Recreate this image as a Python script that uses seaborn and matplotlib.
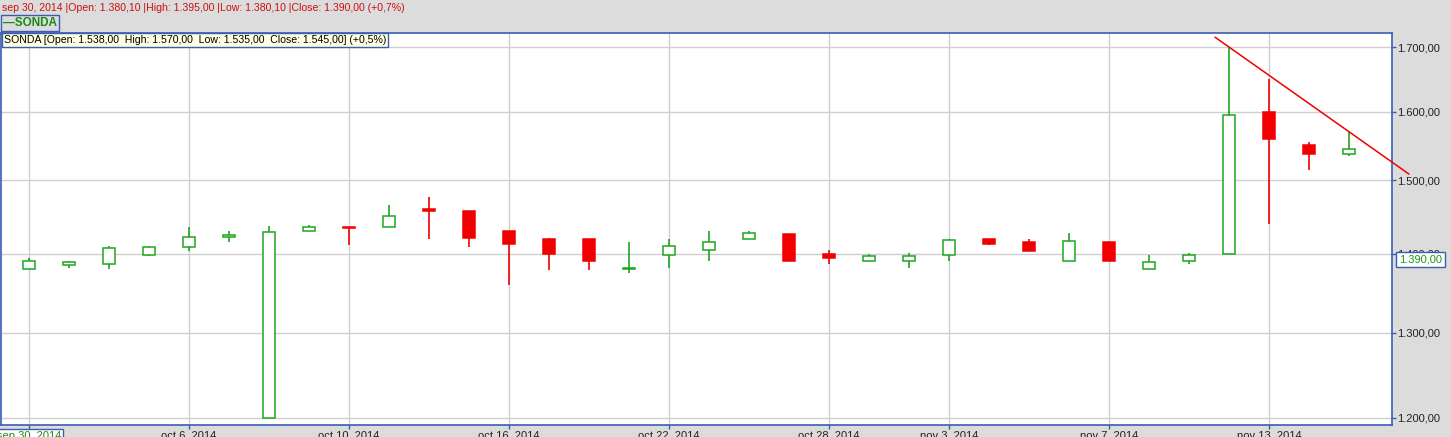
import numpy as np
import pandas as pd
import seaborn as sns
import matplotlib.pyplot as plt
from matplotlib.ticker import FixedLocator, FuncFormatter, NullLocator

# trading days shown
dates = ["2014-09-30", "2014-10-01", "2014-10-02", "2014-10-03", "2014-10-06",
         "2014-10-07", "2014-10-08", "2014-10-09", "2014-10-10", "2014-10-13",
         "2014-10-14", "2014-10-15", "2014-10-16", "2014-10-17", "2014-10-20",
         "2014-10-21", "2014-10-22", "2014-10-23", "2014-10-24", "2014-10-27",
         "2014-10-28", "2014-10-29", "2014-10-30", "2014-11-03", "2014-11-04",
         "2014-11-05", "2014-11-06", "2014-11-07", "2014-11-10", "2014-11-11",
         "2014-11-12", "2014-11-13", "2014-11-14", "2014-11-17"]
opens = [1380.1, 1385, 1386, 1399, 1409, 1422, 1200, 1430, 1436, 1435,
         1460, 1457.5, 1430, 1420, 1420, 1380, 1399, 1405, 1419, 1426,
         1400, 1390, 1390, 1399, 1419, 1416, 1390, 1416, 1380, 1390,
         1400, 1600, 1550, 1538]
highs = [1395, 1391, 1410, 1410, 1436, 1430, 1437, 1438, 1436, 1466,
         1477, 1457.5, 1430, 1421, 1420, 1416, 1420, 1430, 1430, 1426,
         1405, 1400, 1401, 1420, 1419, 1420, 1427, 1416, 1398, 1401,
         1700, 1650, 1555, 1570]
lows = [1380.1, 1382, 1380, 1397, 1404, 1415, 1200, 1430, 1411, 1435,
        1419, 1409, 1359, 1379, 1379, 1375, 1382, 1390, 1419, 1390,
        1386, 1390, 1381, 1390, 1411, 1403, 1390, 1390, 1380, 1386,
        1400, 1440, 1514, 1535]
closes = [1390, 1389, 1408, 1409, 1422, 1425, 1429, 1435, 1434, 1451,
          1458, 1421, 1413, 1400, 1390, 1381, 1410, 1415, 1427, 1391,
          1394, 1397, 1397, 1418, 1413, 1404, 1417, 1391, 1389, 1399,
          1595, 1559, 1537, 1545]
label_dates = ["2014-09-30", "2014-10-06", "2014-10-10", "2014-10-16", "2014-10-22",
               "2014-10-28", "2014-11-03", "2014-11-07", "2014-11-13"]
price_ticks = [1200, 1300, 1400, 1500, 1600, 1700]
trend_days = [30, 33]   # trend line through the highs of these days
first_change = "+0,7%"  # change shown for sep 30 in the cursor line

df = pd.DataFrame({"date": pd.to_datetime(dates), "open": opens, "high": highs,
                   "low": lows, "close": closes})
df["i"] = np.arange(len(df))
df["up"] = df["close"] >= df["open"]

GREEN = "#1ea51e"
RED = "#f00000"
BLUE = "#3a5db4"
BG = "#dcdcdc"
FS = 8
HFS = 7.6


def eu(v):
    s = f"{v:,.2f}"
    return s.replace(",", "X").replace(".", ",").replace("X", ".")


def datelabel(d):
    d = pd.Timestamp(d)
    return f"{d.strftime('%b').lower()} {d.day}, {d.year}"


sns.set_theme(style="white")
plt.rcParams['font.family'] = ['Liberation Sans', 'DejaVu Sans']

fig = plt.figure(figsize=(14.51, 4.37), dpi=100, facecolor=BG)
ax = fig.add_axes([1 / 1451, 12 / 437, 1391 / 1451, 392 / 437])
ax.set_facecolor("white")
ax.set_yscale("log")

# wicks
for up, col in [(True, GREEN), (False, RED)]:
    d = df[df["up"] == up]
    ax.vlines(d["i"], d["low"], d["high"], color=col, lw=1.2, zorder=2)

# bodies
w = 0.31
up = df[df["up"]]
dn = df[~df["up"]]
ax.bar(up["i"], (up["close"] - up["open"]).clip(lower=0.5), bottom=up["open"],
       width=w, facecolor="white", edgecolor=GREEN, lw=1.1, zorder=3)
ax.bar(dn["i"], (dn["open"] - dn["close"]).clip(lower=0.5), bottom=dn["close"],
       width=w, facecolor=RED, edgecolor=RED, lw=1.1, zorder=3)

# trend line through two highs, extended
x1, x2 = trend_days
y1, y2 = highs[x1], highs[x2]
slope = (np.log(y2) - np.log(y1)) / (x2 - x1)
tx = [x1 - 0.35, x2 + 1.5]
ty = [float(np.exp(np.log(y1) + slope * (x - x1))) for x in tx]
sns.lineplot(x=tx, y=ty, ax=ax, color=RED, lw=1.1, zorder=4)
ax.lines[-1].set_clip_on(False)

ax.set_xlim(-0.7, 34.075)
ax.set_ylim(1192, 1722.6)

# axes, ticks and grid
pos = [dates.index(d) for d in label_dates]
ax.xaxis.set_major_locator(FixedLocator(pos))
ax.set_xticklabels([datelabel(d) for d in label_dates])
ax.yaxis.set_major_locator(FixedLocator(price_ticks))
ax.yaxis.set_minor_locator(NullLocator())
ax.yaxis.set_major_formatter(FuncFormatter(lambda v, p: eu(v)))
ax.yaxis.tick_right()
ax.tick_params(axis="y", which="major", direction="out", length=3, width=1,
               color=BLUE, labelsize=FS, labelcolor="#222222", pad=1)
ax.tick_params(axis="x", which="major", direction="out", length=3, width=1,
               color=BLUE, labelsize=FS, labelcolor="#222222", pad=1,
               bottom=True)
ax.grid(True, color="#cfcfcf", lw=1, zorder=0)
ax.set_axisbelow(True)
for s in ax.spines.values():
    s.set_color(BLUE)
    s.set_linewidth(1.2)
ax.set_xlabel("")
ax.set_ylabel("")
# first date label is highlighted
ax.get_xticklabels()[0].set_color("#1a8a1a")
ax.get_xticklabels()[0].set_bbox(dict(facecolor="white", edgecolor=BLUE, lw=1,
                                      pad=1.2))

# header lines
d0 = 0
fig.text(2 / 1451, 1 - 8 / 437,
         f"{datelabel(dates[d0])} |Open: {eu(opens[d0])} |High: {eu(highs[d0])} "
         f"|Low: {eu(lows[d0])} |Close: {eu(closes[d0])} ({first_change})",
         color="#cc1010", fontsize=HFS, va="center", ha="left")
fig.text(3 / 1451, 1 - 23 / 437, "\u2014SONDA", color="#178a17", fontsize=8.5,
         fontweight="bold", va="center", ha="left",
         bbox=dict(facecolor=BG, edgecolor=BLUE, lw=1, pad=1.5))
last = len(dates) - 1
chg = (closes[last] / closes[last - 1] - 1) * 100
chg_txt = f"{chg:+.1f}%".replace(".", ",")
fig.text(4 / 1451, 1 - 40 / 437,
         f"SONDA [Open: {eu(opens[last])}  High: {eu(highs[last])}  "
         f"Low: {eu(lows[last])}  Close: {eu(closes[last])}] ({chg_txt})",
         color="black", fontsize=HFS, va="center", ha="left", zorder=10,
         bbox=dict(facecolor="#ffffe1", edgecolor=BLUE, lw=1, pad=1.5))

# current price marker on the axis
ax.text(1.005, closes[d0] + 2, eu(closes[d0]), transform=ax.get_yaxis_transform(),
        color="#1a9a1a", fontsize=FS, va="center", ha="left", clip_on=False,
        bbox=dict(facecolor="white", edgecolor=BLUE, lw=1, pad=1.8))

fig.savefig("out.png", dpi=100, facecolor=BG)
